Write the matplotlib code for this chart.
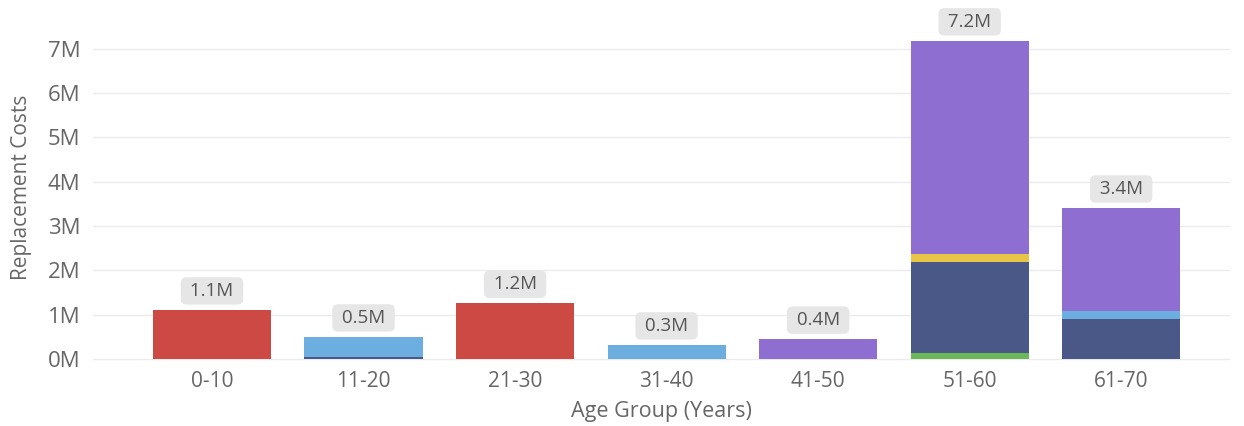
import matplotlib
matplotlib.use("Agg")
from matplotlib import pyplot as plt
import numpy as np

plt.rcParams['font.family'] = ['Open Sans', 'DejaVu Sans']

groups = ["0-10", "11-20", "21-30", "31-40", "41-50", "51-60", "61-70"]

# stacked segments (millions), bottom to top
green = [0, 0, 0, 0, 0, 0.14, 0]
navy = [0, 0.04, 0, 0, 0, 2.05, 0.9]
blue = [0, 0.46, 0, 0.32, 0, 0, 0.18]
yellow = [0, 0, 0, 0, 0, 0.18, 0]
red = [1.11, 0, 1.26, 0, 0, 0, 0]
purple = [0, 0, 0, 0, 0.45, 4.81, 2.33]
totals = ["1.1M", "0.5M", "1.2M", "0.3M", "0.4M", "7.2M", "3.4M"]

series = [(green, "#6BB85A"), (navy, "#4A5888"), (blue, "#6CAEE0"),
          (yellow, "#E8C547"), (red, "#CC4A43"), (purple, "#8E6FD1")]

fig = plt.figure(figsize=(12.44, 4.26), dpi=100)
ax = fig.add_axes([0.0748, 0.143, 0.9142, 0.834])

x = np.arange(len(groups))
bottom = np.zeros(len(groups))
for vals, col in series:
    vals = np.array(vals)
    ax.bar(x, vals, 0.78, bottom=bottom, color=col, zorder=2)
    bottom += vals

for i, lab in enumerate(totals):
    ax.annotate(" " + lab + " ", (x[i], bottom[i]), xytext=(0, 19), textcoords='offset pixels',
                ha='center', va='center', fontsize=13.5, color='#555555',
                bbox=dict(boxstyle='round,pad=0.25,rounding_size=0.3', fc='#E6E6E6', ec='none'),
                annotation_clip=False)

ax.set_xlim(-0.785, 6.72)
ax.set_ylim(-0.135, 7.88)
ax.set_yticks(range(0, 8))
ax.set_yticklabels([f"{v}M" for v in range(0, 8)])
ax.set_xticks(x)
ax.set_xticklabels(groups)
ax.tick_params(axis='both', length=0, colors='#666666')
ax.tick_params(axis='x', labelsize=15, pad=4)
ax.tick_params(axis='y', labelsize=16, pad=9)
ax.grid(axis='y', color='#EBEBEB', linewidth=1, zorder=0)
for s in ax.spines.values():
    s.set_visible(False)

ax.set_xlabel("Age Group (Years)", fontsize=15.5, color='#666666')
ax.set_ylabel("Replacement Costs", fontsize=15, color='#666666')
ax.xaxis.set_label_coords(0.5, -0.1)
ax.yaxis.set_label_coords(-0.054, 0.5)

fig.savefig("out.png", dpi=100)
